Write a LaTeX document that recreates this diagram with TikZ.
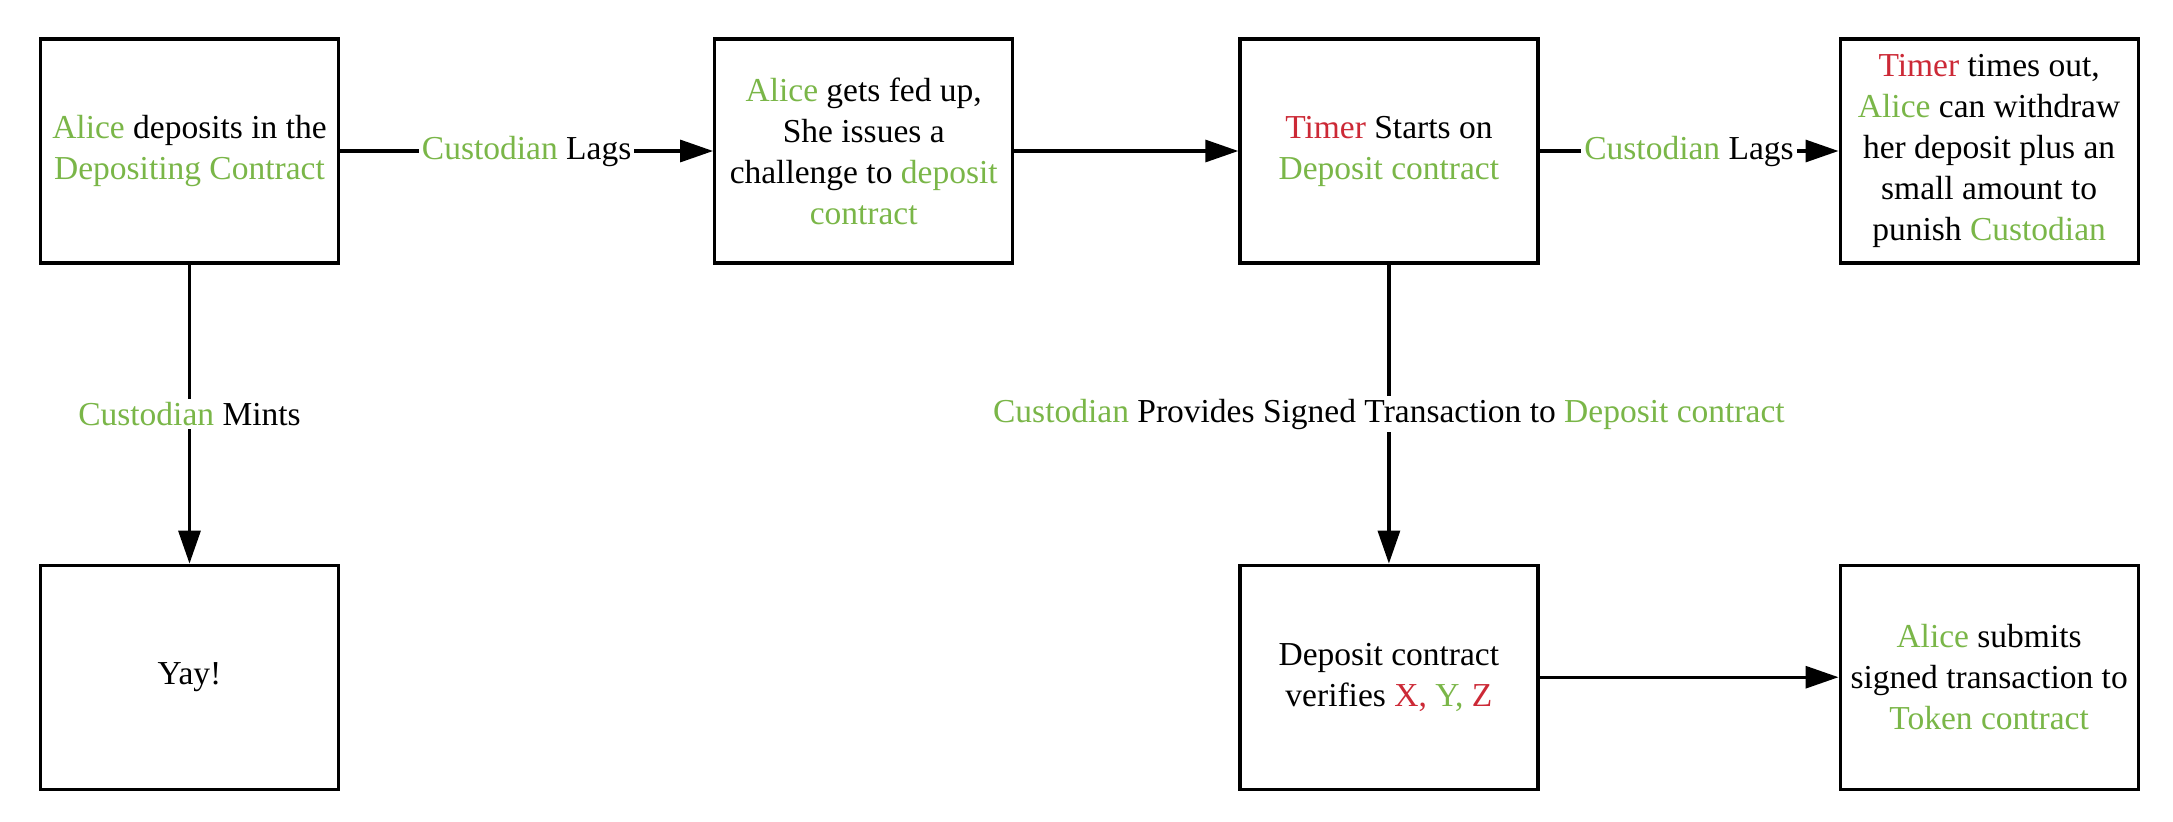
\documentclass[tikz,border=0pt]{standalone}
\usepackage{fontspec}
\setmainfont{Liberation Serif}
\usepackage{xcolor}
\usetikzlibrary{positioning}
\usetikzlibrary{arrows.meta}
\definecolor{actgreen}{RGB}{122,182,72}
\definecolor{actred}{RGB}{204,41,54}
\newcommand{\actor}[1]{\textcolor{actgreen}{#1}}
\newcommand{\alarm}[1]{\textcolor{actred}{#1}}
\tikzset{stepbox/.style={draw, line width=1.6pt, minimum width=149pt,
minimum height=112pt, align=center, inner sep=0pt,
font=\fontsize{16.75}{20.5}\selectfont},
flow/.style={line width=1.6pt, -{Triangle[length=16.5pt,width=11pt]}},
flowlabel/.style={fill=white, inner sep=1.5pt, font=\fontsize{16.75}{20.5}\selectfont}}

\begin{document}
\begin{tikzpicture}[x=0.5pt, y=-0.5pt]
	\useasboundingbox (0,0) rectangle (2173,821);
	\node[stepbox] (deposit) at (189.5,151) {\actor{Alice} deposits in the\\ \actor{Depositing Contract}};
	\node[stepbox, right=186.5pt of deposit] (challenge) {\actor{Alice} gets fed up,\\ She issues a\\ challenge to \actor{deposit}\\ \actor{contract}};
	\node[stepbox, right=112pt of challenge] (timer) {\alarm{Timer} Starts on\\ \actor{Deposit contract}};
	\node[stepbox, right=149.5pt of timer] (timeout) {\alarm{Timer} times out,\\ \actor{Alice} can withdraw\\ her deposit plus an\\ small amount to\\ punish \actor{Custodian}};
	\node[stepbox, below=149.5pt of deposit] (yay) {Yay!};
	\node[stepbox, below=149.5pt of timer] (verify) {Deposit contract\\ verifies \alarm{X,} \actor{Y,} \alarm{Z}};
	\node[stepbox, below=149.5pt of timeout] (submit) {\actor{Alice} submits\\ signed transaction to\\ \actor{Token contract}};

	\draw[flow] (deposit) -- node[flowlabel] {\actor{Custodian} Lags} (challenge);
	\draw[flow] (challenge) -- (timer);
	\draw[flow] (timer) -- node[flowlabel] {\actor{Custodian} Lags} (timeout);
	\draw[flow] (deposit) -- node[flowlabel] {\actor{Custodian} Mints} (yay);
	\draw[flow] (timer) -- node[flowlabel] {\actor{Custodian} Provides Signed Transaction to \actor{Deposit contract}} (verify);
	\draw[flow] (verify) -- (submit);
\end{tikzpicture}
\end{document}
